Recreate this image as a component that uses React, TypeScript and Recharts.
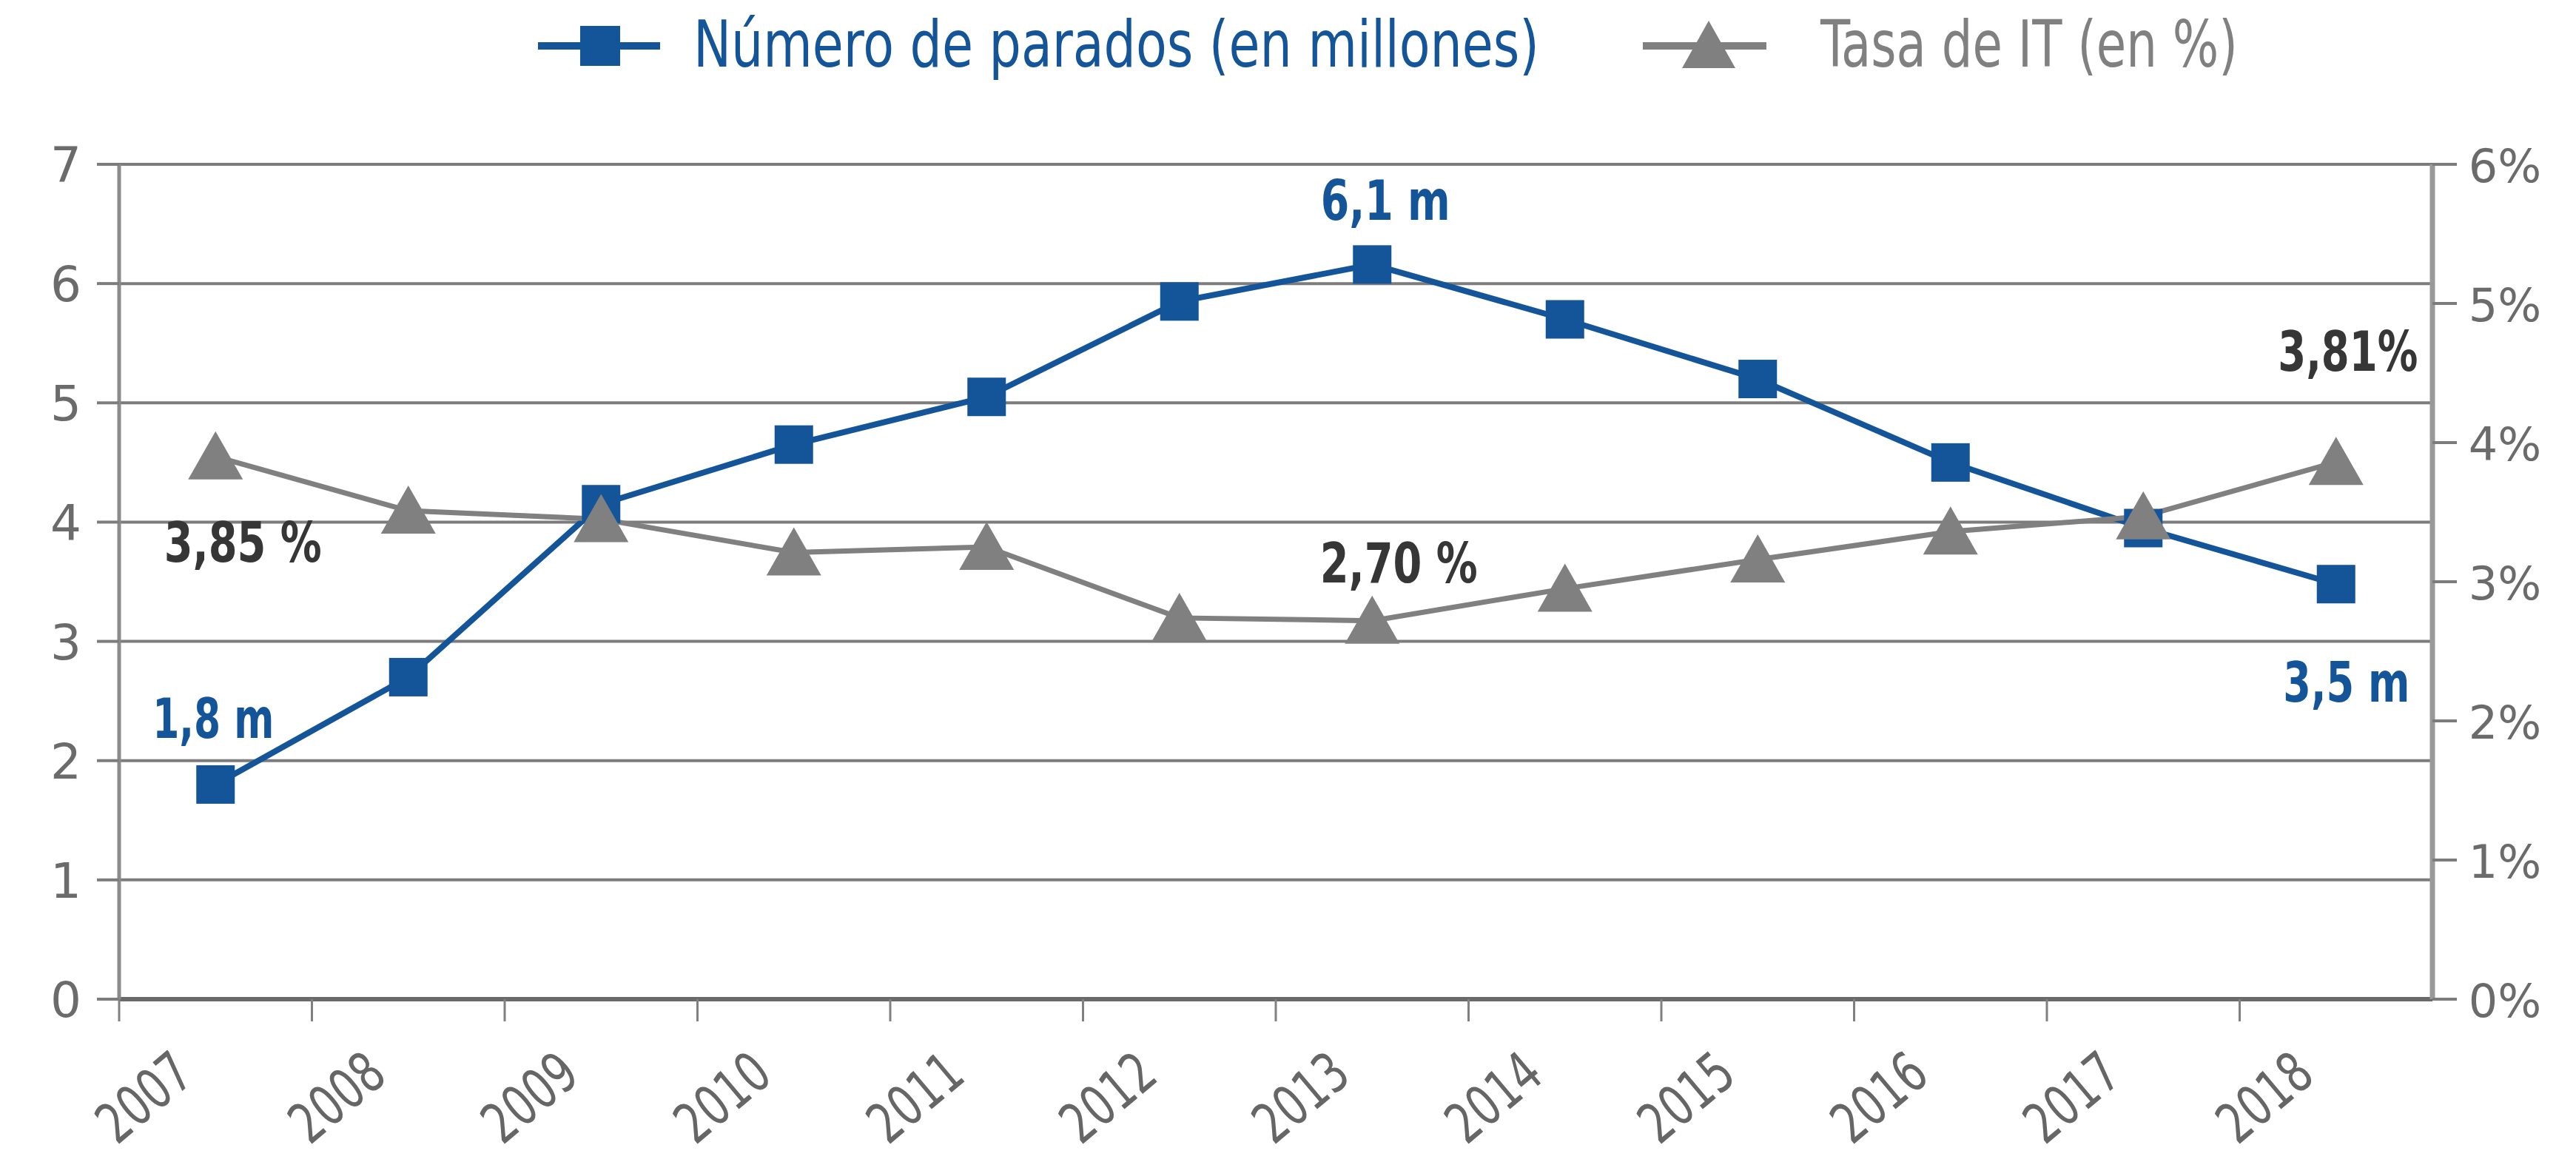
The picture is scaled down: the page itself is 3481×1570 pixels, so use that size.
import React from 'react';
import { ComposedChart, Line, XAxis, YAxis, CartesianGrid } from 'recharts';

// ---------- data ----------
const years = ['2007', '2008', '2009', '2010', '2011', '2012', '2013', '2014', '2015', '2016', '2017', '2018'];
const parados = [1.8, 2.7, 4.15, 4.65, 5.05, 5.85, 6.16, 5.7, 5.2, 4.5, 3.95, 3.48];
const tasaIT = [3.9, 3.51, 3.45, 3.21, 3.25, 2.74, 2.72, 2.95, 3.16, 3.36, 3.47, 3.86];
const paradosLabels = ['1,8 m', null, null, null, null, null, '6,1 m', null, null, null, null, '3,5 m'];
const tasaLabels = ['3,85 %', null, null, null, null, null, '2,70 %', null, null, null, null, '3,81%'];
const leftTicks = [0, 1, 2, 3, 4, 5, 6, 7];
const rightTicks = [0, 1, 2, 3, 4, 5, 6];
const rightTickLabels = ['0%', '1%', '2%', '3%', '4%', '5%', '6%'];
const legendNames = ['Número de parados (en millones)', 'Tasa de IT (en %)'];

const data = years.map((y, i) => ({ year: y, parados: parados[i], tasa: tasaIT[i] }));

// ---------- style ----------
const W = 3481;
const H = 1570;
const LEFT_W = 161;
const RIGHT_W = 194;
const TOP = 222;
const XAXIS_H = 220;
const BAND = (W - LEFT_W - RIGHT_W) / years.length;
const BLUE = '#14559a';
const GRAY = '#808080';
const GRID = '#7c7c7c';
const LABEL_DARK = '#363636';
const NARROW = "'Liberation Sans Narrow', 'Arial Narrow', 'DejaVu Sans Condensed', 'DejaVu Sans', sans-serif";
const WIDE = "'DejaVu Sans', 'Open Sans', sans-serif";

// label placement relative to the point: dx, dy (baseline), text length
const paradosLabelPlace: Record<number, [number, number, number]> = {
  0: [-3, -63, 164],
  6: [18, -60, 175],
  11: [14, 159, 171],
};
const tasaLabelPlace: Record<number, [number, number, number]> = {
  0: [37, 142, 213],
  6: [36, -52, 213],
  11: [16, -123, 189],
};

const SquareDot = (props: any) => {
  const { cx, cy, index } = props;
  if (cx == null || cy == null) return <g key={`sq-${index}`} />;
  const lbl = paradosLabels[index];
  const pl = paradosLabelPlace[index];
  return (
    <g key={`sq-${index}`}>
      <rect x={cx - 26} y={cy - 26} width={52} height={52} fill={BLUE} />
      {lbl && pl && (
        <text
          x={cx + pl[0]}
          y={cy + pl[1]}
          textAnchor="middle"
          fontFamily={NARROW}
          fontWeight={700}
          fontSize={74}
          fill={BLUE}
          textLength={pl[2]}
          lengthAdjust="spacingAndGlyphs"
        >
          {lbl}
        </text>
      )}
    </g>
  );
};

const TriDot = (props: any) => {
  const { cx, cy, index } = props;
  if (cx == null || cy == null) return <g key={`tr-${index}`} />;
  const lbl = tasaLabels[index];
  const pl = tasaLabelPlace[index];
  return (
    <g key={`tr-${index}`}>
      <path d={`M${cx},${cy - 34} L${cx + 37},${cy + 31} L${cx - 37},${cy + 31} Z`} fill={GRAY} />
      {lbl && pl && (
        <text
          x={cx + pl[0]}
          y={cy + pl[1]}
          textAnchor="middle"
          fontFamily={NARROW}
          fontWeight={700}
          fontSize={74}
          fill={LABEL_DARK}
          textLength={pl[2]}
          lengthAdjust="spacingAndGlyphs"
        >
          {lbl}
        </text>
      )}
    </g>
  );
};

const XTick = (props: any) => {
  const { x, y, payload } = props;
  return (
    <g>
      <line x1={x - BAND / 2} x2={x - BAND / 2} y1={y} y2={y + 30} stroke={GRAY} strokeWidth={3} />
      <text
        transform={`translate(${x - 26}, ${y + 108}) rotate(-40)`}
        textAnchor="end"
        fontFamily={NARROW}
        fontSize={76}
        fill="#666"
        textLength={140}
        lengthAdjust="spacingAndGlyphs"
      >
        {payload.value}
      </text>
    </g>
  );
};

const LeftTick = (props: any) => {
  const { x, y, payload } = props;
  return (
    <text x={x - 42} y={y} dy={24} textAnchor="middle" fontFamily={WIDE} fontSize={66} fill="#6b6b6b">
      {payload.value}
    </text>
  );
};

const RightTick = (props: any) => {
  const { x, y, payload } = props;
  const i = rightTicks.indexOf(payload.value);
  return (
    <text x={x + 65} y={y} dy={24} textAnchor="middle" fontFamily={WIDE} fontSize={62} fill="#6b6b6b">
      {rightTickLabels[i]}
    </text>
  );
};

const LegendOverlay = () => (
  <svg width={W} height={140} style={{ position: 'absolute', left: 0, top: 0 }}>
    <line x1={727} x2={892} y1={62} y2={62} stroke={BLUE} strokeWidth={10} />
    <rect x={784} y={35} width={54} height={54} fill={BLUE} />
    <text x={937} y={90} fontFamily={NARROW} fontSize={88} fill={BLUE} textLength={1143} lengthAdjust="spacingAndGlyphs">
      {legendNames[0]}
    </text>
    <line x1={2220} x2={2387} y1={62} y2={62} stroke={GRAY} strokeWidth={10} />
    <path d="M2309,28 L2345,92 L2273,92 Z" fill={GRAY} />
    <text x={2460} y={90} fontFamily={NARROW} fontSize={88} fill={GRAY} textLength={564} lengthAdjust="spacingAndGlyphs">
      {legendNames[1]}
    </text>
  </svg>
);

export default function App() {
  return (
    <div style={{ position: 'absolute', left: 0, top: 0, width: W, height: H, background: '#fff' }}>
      <ComposedChart width={W} height={H} data={data} margin={{ top: TOP, right: 0, bottom: 0, left: 0 }}>
        <CartesianGrid yAxisId="left" vertical={false} stroke={GRID} strokeWidth={4} />
        <XAxis
          dataKey="year"
          scale="band"
          height={XAXIS_H}
          tick={<XTick />}
          tickLine={false}
          tickSize={0}
          tickMargin={0}
          axisLine={{ stroke: '#6a6a6a', strokeWidth: 6 }}
          interval={0}
        />
        <YAxis
          yAxisId="left"
          width={LEFT_W}
          domain={[0, 7]}
          ticks={leftTicks}
          interval={0}
          tickSize={30}
          tickMargin={0}
          tickLine={{ stroke: GRID, strokeWidth: 4 }}
          axisLine={{ stroke: '#8a8a8a', strokeWidth: 5 }}
          tick={<LeftTick />}
        />
        <YAxis
          yAxisId="right"
          orientation="right"
          width={RIGHT_W}
          domain={[0, 6]}
          ticks={rightTicks}
          interval={0}
          tickSize={33}
          tickMargin={0}
          tickLine={{ stroke: GRID, strokeWidth: 4 }}
          axisLine={{ stroke: '#999', strokeWidth: 7 }}
          tick={<RightTick />}
        />
        <Line
          yAxisId="left"
          dataKey="parados"
          stroke={BLUE}
          strokeWidth={8}
          dot={(p: any) => <SquareDot key={`sq-${p.index}`} {...p} />}
          activeDot={false}
          isAnimationActive={false}
        />
        <Line
          yAxisId="right"
          dataKey="tasa"
          stroke={GRAY}
          strokeWidth={7}
          dot={(p: any) => <TriDot key={`tr-${p.index}`} {...p} />}
          activeDot={false}
          isAnimationActive={false}
        />
      </ComposedChart>
      <LegendOverlay />
    </div>
  );
}
